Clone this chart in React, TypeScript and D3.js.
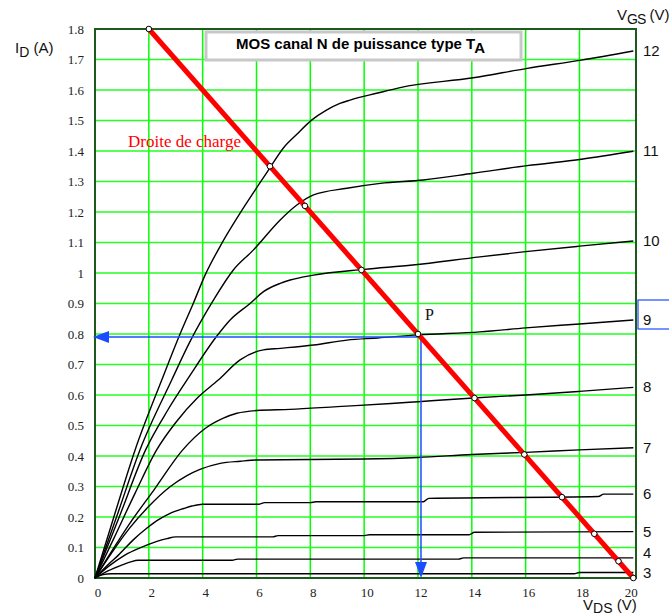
import React from 'react';
import * as d3 from 'd3';

// characteristic curves ID = f(VDS) for each VGS
const vgsValues = [3, 4, 5, 6, 7, 8, 9, 10, 11, 12];

const curve3 = [[0, 0], [0.3, 0.011], [0.6, 0.014], [17.8, 0.014], [18, 0.018], [20, 0.018]];
const curve4 = [[0, 0], [0.5, 0.024], [0.9, 0.039], [1.3, 0.052], [1.6, 0.058], [5.1, 0.058], [5.3, 0.062], [13.5, 0.062], [13.7, 0.066], [20, 0.066]];
const curve5 = [[0, 0], [0.5, 0.038], [1.05, 0.072], [1.5, 0.092], [1.92, 0.108], [2.3, 0.12], [2.67, 0.129], [3.0, 0.135], [6.6, 0.135], [6.8, 0.139], [10, 0.139], [10.2, 0.142], [13.9, 0.142], [14.1, 0.15], [20, 0.152]];
const curve6 = [[0, 0], [0.5, 0.045], [0.87, 0.075], [1.42, 0.125], [1.92, 0.163], [2.3, 0.188], [2.79, 0.212], [3.3, 0.228], [3.6, 0.236], [4.0, 0.242], [6.1, 0.242], [6.3, 0.247], [8, 0.247], [8.2, 0.25], [12.2, 0.25], [12.4, 0.261], [18.7, 0.267], [18.9, 0.275], [20, 0.275]];
const curve7 = [[0, 0], [0.6, 0.08], [1.3, 0.165], [2.0, 0.235], [2.8, 0.3], [3.4, 0.335], [3.9, 0.356], [4.65, 0.376], [5.4, 0.383], [6.0, 0.387], [10, 0.39], [12, 0.395], [14, 0.405], [16, 0.412], [18, 0.42], [20, 0.427]];
const curve8 = [[0, 0], [0.6, 0.085], [1.3, 0.18], [2.2, 0.29], [3.26, 0.42], [4.09, 0.49], [4.77, 0.524], [5.27, 0.54], [6.0, 0.549], [7.25, 0.553], [9, 0.562], [11, 0.572], [12, 0.578], [14.2, 0.591], [16, 0.6], [18, 0.612], [20, 0.625]];
const curve9 = [[0, 0], [0.7, 0.13], [1.5, 0.28], [2.29, 0.42], [3.0, 0.51], [3.8, 0.59], [4.58, 0.649], [5.39, 0.715], [6.26, 0.748], [6.88, 0.753], [8.12, 0.764], [9.36, 0.78], [10.5, 0.787], [12, 0.797], [14.3, 0.807], [16, 0.82], [18, 0.833], [20, 0.846]];
const curve10 = [[0, 0], [0.9, 0.2], [1.88, 0.42], [2.7, 0.55], [3.5, 0.66], [4.5, 0.79], [5.02, 0.846], [5.76, 0.9], [6.26, 0.939], [6.88, 0.966], [7.25, 0.977], [8.12, 0.993], [10, 1.012], [11.8, 1.026], [14.3, 1.053], [16, 1.07], [18, 1.088], [20, 1.105]];
const curve11 = [[0, 0], [0.8, 0.2], [1.67, 0.42], [2.85, 0.649], [3.5, 0.77], [4.4, 0.911], [5.14, 1.01], [5.88, 1.075], [6.88, 1.174], [7.5, 1.223], [8.12, 1.256], [9.36, 1.278], [10.6, 1.294], [12.2, 1.305], [14.05, 1.327], [16.06, 1.352], [18.07, 1.373], [20, 1.399]];
const curve12 = [[0, 0], [0.7, 0.2], [1.49, 0.42], [2.48, 0.649], [3.16, 0.8], [3.65, 0.9], [4.09, 0.993], [4.71, 1.097], [5.39, 1.196], [6.2, 1.305], [6.5, 1.345], [7.0, 1.41], [7.5, 1.455], [8.06, 1.502], [8.6, 1.534], [9.1, 1.556], [9.48, 1.567], [10.5, 1.59], [11.34, 1.608], [14.05, 1.64], [16.06, 1.671], [18.07, 1.698], [20, 1.728]];

const curves = [curve3, curve4, curve5, curve6, curve7, curve8, curve9, curve10, curve11, curve12];

// load line ID = (E - VDS) / R, drawn from VDS = 2 to 20
const loadE = 20;
const loadR = 10;
const loadStart = 2;
const intersections = [2, 6.5, 7.8, 9.9, 12, 14.1, 15.95, 17.35, 18.55, 19.45, 20];
const pointP = [12, 0.8];

const xTicks = [0, 2, 4, 6, 8, 10, 12, 14, 16, 18, 20];
const yTicks = [0, 0.1, 0.2, 0.3, 0.4, 0.5, 0.6, 0.7, 0.8, 0.9, 1, 1.1, 1.2, 1.3, 1.4, 1.5, 1.6, 1.7, 1.8];

const W = 669;
const H = 616;
const serif = '"Liberation Serif", "Times New Roman", serif';
const sans = '"Liberation Sans", Arial, sans-serif';
const blue = '#1c4cff';

export default function App() {
  const x = d3.scaleLinear().domain([0, 20.1]).range([95, 636]);
  const y = d3.scaleLinear().domain([0, 1.8]).range([578, 29]);
  const line = d3.line<number[]>().x(d => x(d[0])).y(d => y(d[1])).curve(d3.curveMonotoneX);
  const loadId = (v: number) => (loadE - v) / loadR;

  const px = x(pointP[0]);
  const py = y(pointP[1]);

  // right-hand VGS labels: at curve ends, pushed apart from the bottom up
  const labelY: number[] = [];
  curves.forEach((c, i) => {
    let ly = y(c[c.length - 1][1]);
    if (i > 0) ly = Math.min(ly, labelY[i - 1] - 20);
    labelY.push(ly);
  });

  return (
    <svg width={W} height={H} style={{ position: 'absolute', left: 0, top: 0, background: '#fff' }}>
      {/* grid */}
      {xTicks.filter(t => t > 0 && t < 20).map(t => (
        <line key={'gx' + t} x1={x(t)} x2={x(t)} y1={y(0)} y2={y(1.8)} stroke="#00ff00" strokeWidth={1.5} />
      ))}
      {yTicks.filter(t => t > 0 && t < 1.8).map(t => (
        <line key={'gy' + t} x1={x(0)} x2={636} y1={y(t)} y2={y(t)} stroke="#22ff22" strokeWidth={1.5} />
      ))}
      <rect x={x(0)} y={y(1.8)} width={636 - x(0)} height={y(0) - y(1.8)} fill="none" stroke="#1e5a1e" strokeWidth={2} />

      {/* title box */}
      <rect x={206} y={32} width={315} height={28} fill="#fff" stroke="#c8c8c8" strokeWidth={3} />
      <text x={236} y={49} fontFamily={sans} fontWeight="bold" fontSize={15}>
        MOS canal N de puissance type T<tspan dy={4} fontSize={15}>A</tspan>
      </text>

      {/* characteristic curves */}
      {curves.map((c, i) => (
        <path key={'c' + i} d={line(c) || ''} fill="none" stroke="#000" strokeWidth={1.4} />
      ))}

      {/* blue projections of P */}
      <line x1={px} x2={x(0) + 12} y1={py + 3} y2={py + 3} stroke={blue} strokeWidth={1.5} />
      <path d={`M${x(0) - 2},${py + 3} L${x(0) + 14},${py - 3} L${x(0) + 14},${py + 9} Z`} fill={blue} />
      <line x1={px + 3} x2={px + 3} y1={py} y2={y(0) - 12} stroke={blue} strokeWidth={1.5} />
      <path d={`M${px + 3},${y(0)} L${px - 3},${y(0) - 16} L${px + 9},${y(0) - 16} Z`} fill={blue} />

      {/* load line */}
      <line x1={x(loadStart)} y1={y(loadId(loadStart))} x2={x(loadE)} y2={y(loadId(loadE))} stroke="#ff0000" strokeWidth={5} />
      {intersections.map(v => (
        <circle key={'i' + v} cx={x(v)} cy={y(loadId(v))} r={2.8} fill="#fff" stroke="#000" strokeWidth={1} />
      ))}
      <text x={128} y={147} fontFamily={serif} fontSize={17} fill="#ff0000">Droite de charge</text>
      <text x={425} y={320} fontFamily={serif} fontSize={16} fill="#111">P</text>

      {/* axis tick labels */}
      {yTicks.map(t => (
        <text key={'yt' + t} x={84} y={y(t) + 4.5} textAnchor="end" fontFamily={serif} fontSize={13} fill="#222">
          {d3.format('~g')(t)}
        </text>
      ))}
      {xTicks.map(t => (
        <text key={'xt' + t} x={x(t) + (t === 20 ? -2 : 3)} y={597} textAnchor="middle" fontFamily={serif} fontSize={13} fill="#222">
          {t}
        </text>
      ))}

      {/* VGS labels */}
      {vgsValues.map((v, i) => (
        <text key={'v' + v} x={643} y={labelY[i] + 5} fontFamily={sans} fontSize={15} fill="#111">
          {v}
        </text>
      ))}
      <rect x={638} y={300} width={40} height={29} fill="none" stroke={blue} strokeWidth={1.2} />

      {/* axis titles */}
      <text x={15} y={53} fontFamily={sans} fontSize={15} fill="#111">
        I<tspan dy={4} fontSize={14}>D</tspan><tspan dy={-4}> (A)</tspan>
      </text>
      <text x={617} y={20} fontFamily={sans} fontSize={15} fill="#111">
        V<tspan dy={4} fontSize={14} letterSpacing={-1}>GS</tspan><tspan dy={-4}> (V)</tspan>
      </text>
      <text x={583} y={610} fontFamily={sans} fontSize={15} fill="#111">
        V<tspan dy={3} fontSize={14}>DS</tspan><tspan dy={-3}> (V)</tspan>
      </text>
    </svg>
  );
}
